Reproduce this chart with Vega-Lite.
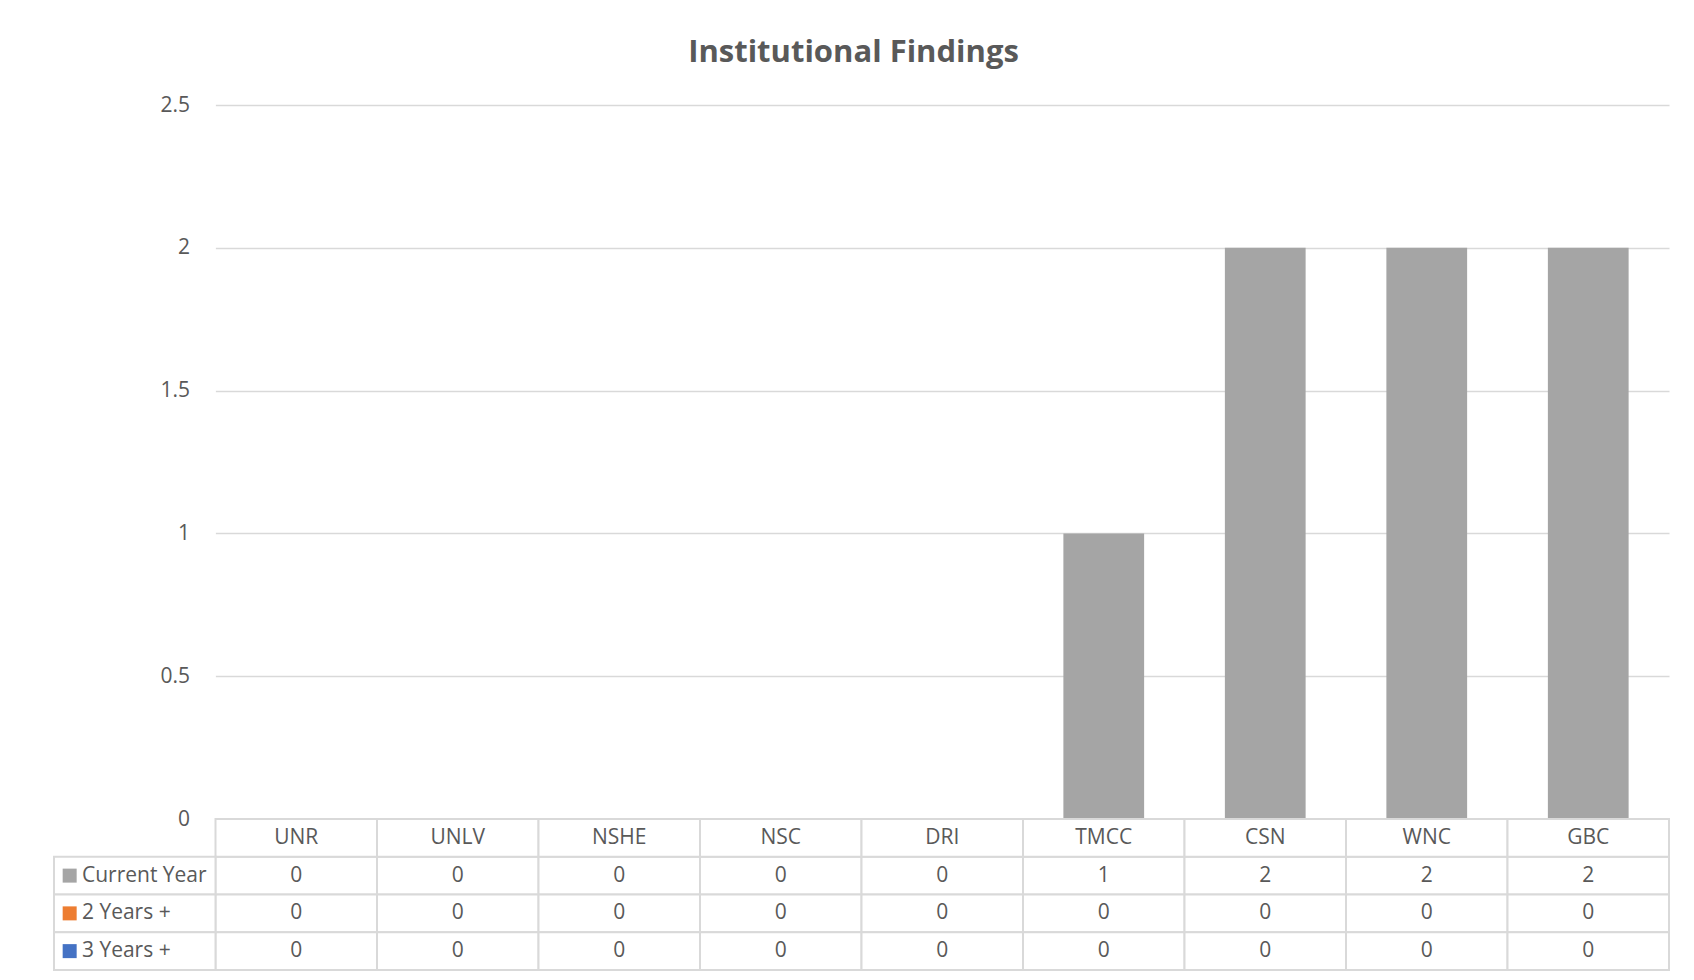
{
  "$schema": "https://vega.github.io/schema/vega-lite/v6.json",
  "padding": {"left": 53, "top": 37, "right": 0, "bottom": 0},
  "background": "white",
  "title": {"text": "Institutional Findings", "font": "Open Sans", "fontSize": 31, "fontWeight": "bold", "color": "#595959", "anchor": "middle", "dx": -8, "offset": 25},
  "config": {"view": {"stroke": null}, "font": "Open Sans"},
  "datasets": {
    "findings": [
      {"inst": "UNR", "series": "Current Year", "value": 0},
      {"inst": "UNLV", "series": "Current Year", "value": 0},
      {"inst": "NSHE", "series": "Current Year", "value": 0},
      {"inst": "NSC", "series": "Current Year", "value": 0},
      {"inst": "DRI", "series": "Current Year", "value": 0},
      {"inst": "TMCC", "series": "Current Year", "value": 1},
      {"inst": "CSN", "series": "Current Year", "value": 2},
      {"inst": "WNC", "series": "Current Year", "value": 2},
      {"inst": "GBC", "series": "Current Year", "value": 2},
      {"inst": "UNR", "series": "2 Years +", "value": 0},
      {"inst": "UNLV", "series": "2 Years +", "value": 0},
      {"inst": "NSHE", "series": "2 Years +", "value": 0},
      {"inst": "NSC", "series": "2 Years +", "value": 0},
      {"inst": "DRI", "series": "2 Years +", "value": 0},
      {"inst": "TMCC", "series": "2 Years +", "value": 0},
      {"inst": "CSN", "series": "2 Years +", "value": 0},
      {"inst": "WNC", "series": "2 Years +", "value": 0},
      {"inst": "GBC", "series": "2 Years +", "value": 0},
      {"inst": "UNR", "series": "3 Years +", "value": 0},
      {"inst": "UNLV", "series": "3 Years +", "value": 0},
      {"inst": "NSHE", "series": "3 Years +", "value": 0},
      {"inst": "NSC", "series": "3 Years +", "value": 0},
      {"inst": "DRI", "series": "3 Years +", "value": 0},
      {"inst": "TMCC", "series": "3 Years +", "value": 0},
      {"inst": "CSN", "series": "3 Years +", "value": 0},
      {"inst": "WNC", "series": "3 Years +", "value": 0},
      {"inst": "GBC", "series": "3 Years +", "value": 0}
    ],
    "series": [
      {"series": "Current Year"},
      {"series": "2 Years +"},
      {"series": "3 Years +"}
    ],
    "institutions": [
      {"inst": "UNR"}, {"inst": "UNLV"}, {"inst": "NSHE"}, {"inst": "NSC"}, {"inst": "DRI"},
      {"inst": "TMCC"}, {"inst": "CSN"}, {"inst": "WNC"}, {"inst": "GBC"}
    ]
  },
  "spacing": 0,
  "bounds": "flush",
  "resolve": {"scale": {"x": "independent", "y": "independent"}},
  "vconcat": [
    {
      "width": 1615,
      "height": 714,
      "resolve": {"scale": {"x": "independent", "y": "independent"}, "axis": {"y": "independent"}},
      "layer": [
        {
          "data": {"name": "findings"},
          "mark": {"type": "bar"},
          "encoding": {
            "x": {"field": "inst", "type": "nominal", "scale": {"domain": ["_legend", "UNR", "UNLV", "NSHE", "NSC", "DRI", "TMCC", "CSN", "WNC", "GBC"], "paddingInner": 0.5, "paddingOuter": 0.25}, "axis": null},
            "y": {"field": "value", "type": "quantitative", "stack": "zero", "scale": {"domain": [0, 2.5], "nice": false},
              "axis": {"values": [0, 0.5, 1, 1.5, 2, 2.5], "title": null, "grid": true, "gridColor": "#d9d9d9", "gridWidth": 1.5, "labels": false, "domain": false, "ticks": false, "zindex": 0}},
            "color": {"field": "series", "type": "nominal", "scale": {"domain": ["Current Year", "2 Years +", "3 Years +"], "range": ["#a5a5a5", "#ed7d31", "#4472c4"]}, "legend": null}
          }
        },
        {
          "data": {"name": "series"},
          "mark": {"type": "rect", "fill": "white"},
          "encoding": {
            "x": {"datum": "_legend", "type": "nominal", "scale": {"domain": ["_legend", "UNR", "UNLV", "NSHE", "NSC", "DRI", "TMCC", "CSN", "WNC", "GBC"], "paddingInner": 0, "paddingOuter": 0}, "axis": null},
            "y": {"datum": -0.012, "type": "quantitative", "scale": {"domain": [0, 2.5], "nice": false},
              "axis": {"orient": "left", "values": [0, 0.5, 1, 1.5, 2, 2.5], "format": "~g", "title": null, "grid": false, "domain": false, "ticks": false, "labelFontSize": 21, "labelColor": "#595959", "labelPadding": 26, "offset": -161.5, "zindex": 1}},
            "y2": {"datum": 2.512}
          }
        }
      ]
    },
    {
      "width": 1615,
      "height": 151,
      "encoding": {
        "x": {"field": "inst", "type": "nominal", "scale": {"domain": ["_legend", "UNR", "UNLV", "NSHE", "NSC", "DRI", "TMCC", "CSN", "WNC", "GBC"], "paddingInner": 0, "paddingOuter": 0}, "axis": null}
      },
      "layer": [
        {"data": {"name": "findings"},
         "mark": {"type": "rect", "fill": "white", "stroke": "#d9d9d9", "strokeWidth": 2},
         "encoding": {"y": {"field": "series", "type": "nominal", "scale": {"domain": ["_h", "Current Year", "2 Years +", "3 Years +"], "paddingInner": 0, "paddingOuter": 0}, "axis": null}}},
        {"data": {"name": "institutions"},
         "mark": {"type": "rect", "fill": "white", "stroke": "#d9d9d9", "strokeWidth": 2},
         "encoding": {"y": {"datum": "_h", "type": "nominal"}}},
        {"data": {"name": "series"},
         "mark": {"type": "rect", "fill": "white", "stroke": "#d9d9d9", "strokeWidth": 2},
         "encoding": {"x": {"datum": "_legend", "type": "nominal"}, "y": {"field": "series", "type": "nominal"}}},
        {"data": {"name": "series"},
         "mark": {"type": "point", "shape": "square", "filled": true, "size": 196, "opacity": 1},
         "encoding": {
           "x": {"datum": "_legend", "type": "nominal", "bandPosition": 0.097},
           "y": {"field": "series", "type": "nominal"},
           "color": {"field": "series", "type": "nominal", "scale": {"domain": ["Current Year", "2 Years +", "3 Years +"], "range": ["#a5a5a5", "#ed7d31", "#4472c4"]}, "legend": null}
         }},
        {"data": {"name": "series"},
         "mark": {"type": "text", "align": "left", "baseline": "middle", "fontSize": 21, "color": "#595959"},
         "encoding": {
           "x": {"datum": "_legend", "type": "nominal", "bandPosition": 0.173},
           "y": {"field": "series", "type": "nominal"},
           "text": {"field": "series", "type": "nominal"}
         }},
        {"data": {"name": "findings"},
         "mark": {"type": "text", "align": "center", "baseline": "middle", "fontSize": 21, "color": "#595959"},
         "encoding": {"y": {"field": "series", "type": "nominal"}, "text": {"field": "value", "type": "quantitative"}}},
        {"data": {"name": "institutions"},
         "mark": {"type": "text", "align": "center", "baseline": "middle", "fontSize": 21, "color": "#595959"},
         "encoding": {"y": {"datum": "_h", "type": "nominal"}, "text": {"field": "inst", "type": "nominal"}}}
      ]
    }
  ]
}
